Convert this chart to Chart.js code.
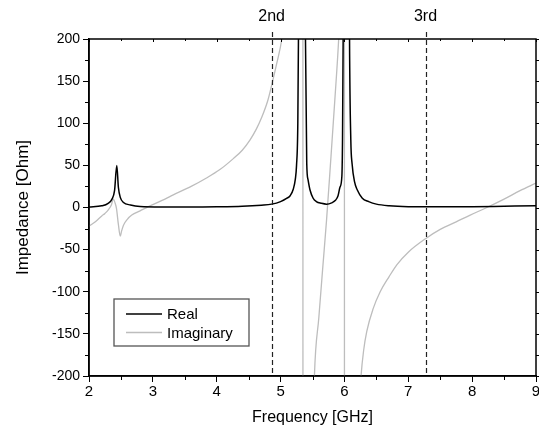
<!DOCTYPE html>
<html>
<head>
<meta charset="utf-8">
<script src="https://cdn.jsdelivr.net/npm/chart.js@4"></script>
<style>
  html, body { margin: 0; padding: 0; background: #fff; }
  #wrap { width: 539px; height: 430px; }
</style>
</head>
<body>
<div id="wrap"><canvas id="impChart" width="539" height="430"></canvas></div>
<script>
// impedance vs frequency
const seriesNames = ["Real", "Imaginary"];

const realFreq = [2.0, 2.2, 2.3, 2.36, 2.4, 2.435, 2.46, 2.49, 2.54, 2.65, 2.8, 3.2, 3.6, 4.0, 4.4, 4.7, 4.86,
  5.0, 5.1, 5.15, 5.2, 5.23, 5.25, 5.27, 5.28, 5.3, 5.335, 5.37, 5.39, 5.41, 5.43, 5.46, 5.51, 5.56, 5.64,
  5.72, 5.8, 5.86, 5.9, 5.93, 5.96, 5.97, 5.98, 6.0, 6.03, 6.06, 6.08, 6.1, 6.12, 6.16, 6.2, 6.28, 6.38,
  6.5, 6.7, 7.0, 7.5, 8.0, 8.5, 9.0];
const realVals = [0.5, 2, 5, 10, 20, 50, 24, 12, 6, 3, 1.2, 0.6, 0.5, 0.8, 1.5, 2.8, 4,
  7, 11, 14, 22, 33, 50, 100, 200, 600, 2000, 600, 200, 52, 33, 21, 11, 7, 5,
  4, 5.5, 8.5, 14, 24, 37, 80, 200, 600, 2000, 600, 200, 80, 52, 30, 21, 11, 7,
  4, 2, 1, 0.8, 1, 1.5, 2];

const imagFreq = [2.0, 2.1, 2.2, 2.25, 2.3, 2.35, 2.38, 2.41, 2.43, 2.46, 2.49, 2.51, 2.54, 2.6, 2.67, 2.8,
  2.93, 3.19, 3.32, 3.6, 3.84, 4.05, 4.26, 4.4, 4.52, 4.62, 4.71, 4.8, 4.86, 4.94, 5.02, 5.1, 5.2, 5.3,
  5.345, 5.355, 5.4, 5.45, 5.5, 5.53, 5.6, 5.66, 5.72, 5.78, 5.85, 5.91, 5.95, 5.995, 6.005, 6.05, 6.15,
  6.22, 6.26, 6.3, 6.35, 6.45, 6.56, 6.7, 6.82, 7.0, 7.27, 7.5, 7.75, 7.97, 8.23, 8.5, 8.75, 9.0];
const imagVals = [-22, -17, -10, -7, -3, 3, 10, 5, -1, -20, -34, -28, -21, -14, -9, -4,
  1, 10, 15, 25, 35, 45, 58, 68, 80, 93, 108, 127, 145, 171, 200, 250, 400, 1500,
  3000, -3000, -1500, -600, -300, -200, -130, -72, -15, 50, 128, 200, 400, 3000, -3000, -1000, -400,
  -250, -200, -170, -147, -120, -100, -82, -68, -53, -37, -26, -17, -9, 0, 10, 20, 29];

const markerFreq = [4.86, 7.27];
const markerLabels = ["2nd", "3rd"];

const xTicks = { min: 2, max: 9, step: 1, minor: 0.5 };
const yTicks = { min: -200, max: 200, step: 50, minor: 25 };

function toPoints(xs, ys) {
  return xs.map((x, i) => ({ x: x, y: ys[i] }));
}

const FONT = "'Liberation Sans', Arial, sans-serif";

// frame, minor ticks, mirror ticks, resonance markers, legend
const decorPlugin = {
  id: "decor",
  afterDatasetsDraw(chart) {
    const { ctx, chartArea: a, scales } = chart;
    const xs = scales.x, ys = scales.y;
    ctx.save();
    ctx.strokeStyle = "#000";
    ctx.lineWidth = 1;

    // minor ticks bottom / left, mirror ticks right / top
    ctx.beginPath();
    for (let v = xTicks.min; v <= xTicks.max + 1e-9; v += xTicks.minor) {
      const px = Math.round(xs.getPixelForValue(v)) + 0.5;
      const major = Math.abs(v - Math.round(v)) < 1e-9;
      if (!major) { ctx.moveTo(px, a.bottom); ctx.lineTo(px, a.bottom + 4); }
      ctx.moveTo(px, a.top); ctx.lineTo(px, a.top + (major ? 3 : 2));
    }
    for (let v = yTicks.min; v <= yTicks.max + 1e-9; v += yTicks.minor) {
      const py = Math.round(ys.getPixelForValue(v)) + 0.5;
      const major = (v % yTicks.step) === 0;
      if (!major) { ctx.moveTo(a.left, py); ctx.lineTo(a.left - 4, py); }
      ctx.moveTo(a.right, py); ctx.lineTo(a.right + (major ? 6 : 4), py);
    }
    ctx.stroke();

    // plot frame
    ctx.lineWidth = 1.5;
    ctx.strokeRect(a.left, a.top, a.right - a.left, a.bottom - a.top);

    // resonance markers
    ctx.lineWidth = 1.2;
    ctx.setLineDash([5, 3]);
    ctx.strokeStyle = "#222";
    markerFreq.forEach((f) => {
      const px = Math.round(xs.getPixelForValue(f)) + 0.5;
      ctx.beginPath();
      ctx.moveTo(px, a.top - 7);
      ctx.lineTo(px, a.bottom);
      ctx.stroke();
    });
    ctx.setLineDash([]);
    ctx.fillStyle = "#000";
    ctx.font = "16px " + FONT;
    ctx.textAlign = "center";
    ctx.textBaseline = "middle";
    markerFreq.forEach((f, i) => {
      ctx.fillText(markerLabels[i], xs.getPixelForValue(f), a.top - 22);
    });

    // legend box
    const lx = a.left + 25, ly = a.top + 260, lw = 135, lh = 47;
    ctx.fillStyle = "#fff";
    ctx.fillRect(lx, ly, lw, lh);
    ctx.strokeStyle = "#555";
    ctx.lineWidth = 1.3;
    ctx.strokeRect(lx, ly, lw, lh);
    ctx.font = "15px " + FONT;
    ctx.textAlign = "left";
    chart.data.datasets.forEach((ds, i) => {
      const yy = ly + 15 + i * 18.5;
      ctx.strokeStyle = ds.borderColor;
      ctx.lineWidth = ds.borderWidth;
      ctx.beginPath();
      ctx.moveTo(lx + 12, yy);
      ctx.lineTo(lx + 48, yy);
      ctx.stroke();
      ctx.fillStyle = "#000";
      ctx.fillText(ds.label, lx + 53, yy + 1);
    });
    ctx.restore();
  }
};

const ctx = document.getElementById("impChart").getContext("2d");

new Chart(ctx, {
  type: "line",
  data: {
    datasets: [
      {
        label: seriesNames[0],
        data: toPoints(realFreq, realVals),
        borderColor: "#000",
        borderWidth: 1.5,
        pointRadius: 0,
        cubicInterpolationMode: "monotone",
      },
      {
        label: seriesNames[1],
        data: toPoints(imagFreq, imagVals),
        borderColor: "#bdbdbd",
        borderWidth: 1.3,
        pointRadius: 0,
        cubicInterpolationMode: "monotone",
      },
    ],
  },
  options: {
    responsive: false,
    animation: false,
    layout: { padding: { top: 39, right: 3, left: 0, bottom: 0 } },
    plugins: { legend: { display: false }, tooltip: { enabled: false } },
    scales: {
      x: {
        type: "linear",
        min: xTicks.min,
        max: xTicks.max,
        ticks: { stepSize: xTicks.step, color: "#000", font: { family: FONT, size: 15 }, padding: 1, maxRotation: 0 },
        grid: { drawOnChartArea: false, drawTicks: true, tickLength: 6, color: "#000", lineWidth: 1 },
        border: { display: true, color: "#000", width: 1.5 },
        title: { display: true, text: "Frequency [GHz]", color: "#000", font: { family: FONT, size: 16 }, padding: { top: 2, bottom: 2.5 } },
        afterFit(s) { s.height = 54; s.paddingRight = 0; s.paddingLeft = 0; },
      },
      y: {
        min: yTicks.min,
        max: yTicks.max,
        ticks: { stepSize: yTicks.step, color: "#000", font: { family: FONT, size: 14 }, padding: 3 },
        grid: { drawOnChartArea: false, drawTicks: true, tickLength: 6, color: "#000", lineWidth: 1 },
        border: { display: true, color: "#000", width: 1.5 },
        title: { display: true, text: "Impedance [Ohm]", color: "#000", font: { family: FONT, size: 17 }, padding: { top: 12.8, bottom: 2 } },
        afterFit(s) { s.width = 89; },
      },
    },
  },
  plugins: [decorPlugin],
});
</script>
</body>
</html>
